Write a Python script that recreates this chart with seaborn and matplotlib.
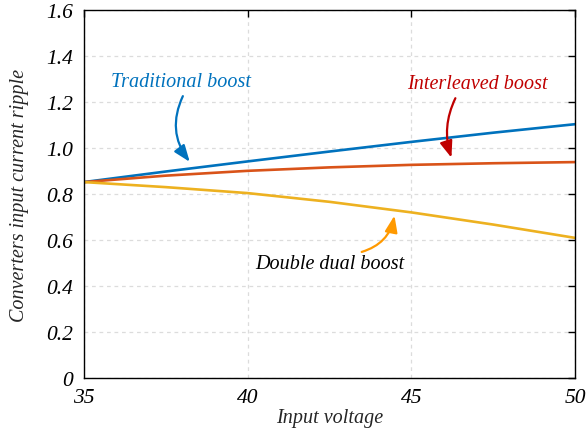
import numpy as np
import pandas as pd
import matplotlib
matplotlib.use("Agg")
import matplotlib.pyplot as plt
import seaborn as sns

# Input voltage samples and the ripple of each converter
voltage = [35, 37.5, 40, 42.5, 45, 47.5, 50]
traditional = [0.852, 0.898, 0.942, 0.985, 1.027, 1.067, 1.104]
interleaved = [0.852, 0.880, 0.901, 0.916, 0.927, 0.934, 0.939]
double_dual = [0.852, 0.830, 0.804, 0.766, 0.720, 0.667, 0.609]

x_ticks = [35, 40, 45, 50]
y_ticks = [0, 0.2, 0.4, 0.6, 0.8, 1.0, 1.2, 1.4, 1.6]
y_tick_labels = ["0", "0.2", "0.4", "0.6", "0.8", "1.0", "1.2", "1.4", "1.6"]

sns.set_style("white")
plt.rcParams["font.family"] = ["Liberation Serif", "DejaVu Serif"]
plt.rcParams["font.style"] = "italic"

df = pd.DataFrame({
    "voltage": voltage * 3,
    "ripple": traditional + interleaved + double_dual,
    "converter": (["Traditional boost"] * len(voltage)
                  + ["Interleaved boost"] * len(voltage)
                  + ["Double dual boost"] * len(voltage)),
})
palette = {"Traditional boost": "#0072BD",
           "Interleaved boost": "#D95319",
           "Double dual boost": "#EDB120"}

fig = plt.figure(figsize=(5.87, 4.31), dpi=100)
ax = fig.add_axes([0.143, 0.121, 0.837, 0.853])

sns.lineplot(data=df, x="voltage", y="ripple", hue="converter",
             palette=palette, linewidth=1.9, ax=ax, legend=False)

ax.set_xlim(35, 50)
ax.set_ylim(0, 1.6)
ax.set_xticks(x_ticks)
ax.set_xticklabels([str(t) for t in x_ticks])
ax.set_yticks(y_ticks)
ax.set_yticklabels(y_tick_labels)
ax.tick_params(direction="in", length=5, width=1, labelsize=15.5,
               top=True, right=True, colors="black")
ax.tick_params(axis="y", pad=8)
ax.tick_params(axis="x", pad=7)
for lab in ax.get_xticklabels() + ax.get_yticklabels():
    lab.set_fontstyle("italic")

ax.grid(True, color="#dcdcdc", linestyle=(0, (3, 3)), linewidth=0.9)
for s in ax.spines.values():
    s.set_color("black")
    s.set_linewidth(1.0)

ax.set_xlabel("Input voltage", fontsize=14.5, style="italic", labelpad=1)
ax.set_ylabel("Converters input current ripple", fontsize=14.5,
              style="italic", labelpad=12)

# Curve labels
ax.text(37.97, 1.29, "Traditional boost", ha="center", va="center",
        fontsize=14.5, color="#0072BD", style="italic")
ax.text(47.01, 1.28, "Interleaved boost", ha="center", va="center",
        fontsize=14.5, color="#C00000", style="italic")
ax.text(42.5, 0.496, "Double dual boost", ha="center", va="center",
        fontsize=14.5, color="black", style="italic")

# Curved pointer arrows
arrow_style = "-|>,head_length=1.0,head_width=0.38"
arrows = [
    ((38.02, 1.226), (38.23, 0.94), "#0072BD", 0.3),
    ((46.34, 1.217), (46.22, 0.958), "#C00000", 0.2),
    ((43.48, 0.548), (44.48, 0.706), "#FF9900", 0.3),
]
for start, tip, col, rad in arrows:
    ax.annotate("", xy=tip, xytext=start,
                arrowprops=dict(arrowstyle=arrow_style, color=col, lw=1.6,
                                shrinkA=0, shrinkB=0,
                                connectionstyle=f"arc3,rad={rad}"))

fig.savefig("out.png", dpi=100)
